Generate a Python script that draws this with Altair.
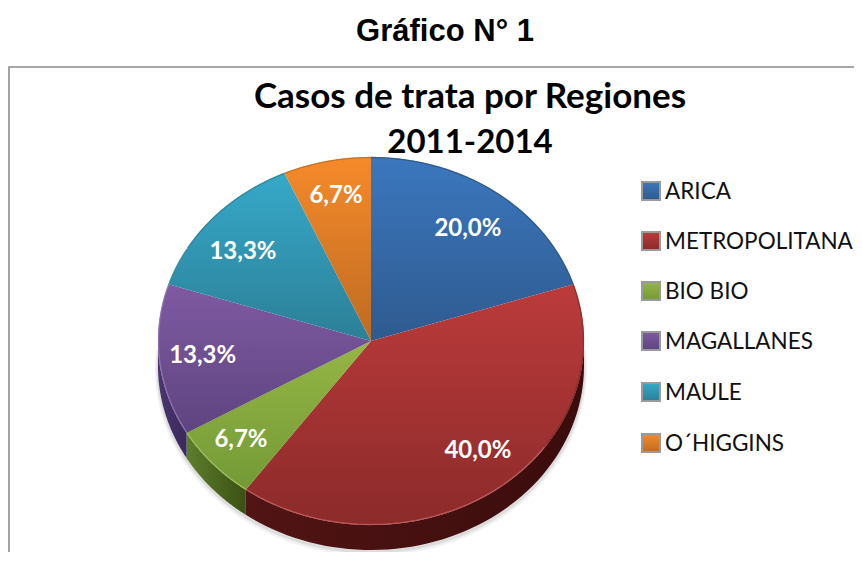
import numpy as np
import pandas as pd
import altair as alt

regions = ["ARICA", "METROPOLITANA", "BIO BIO", "MAGALLANES", "MAULE", "O´HIGGINS"]
cases = [3, 6, 1, 2, 2, 1]
pct_labels = ["20,0%", "40,0%", "6,7%", "13,3%", "13,3%", "6,7%"]
top_light = ["#3B77BE", "#BC3B3B", "#95B645", "#7F5AA2", "#36A9C9", "#F68A2A"]
top_dark = ["#2F5A8F", "#8C2A2A", "#739A37", "#5E4480", "#2C7F97", "#BE6B22"]
wall_a = ["#2A4E7C", "#521414", "#5E7E2C", "#4A3570", "#22687C", "#9A5518"]
wall_b = ["#203C60", "#3A0C0C", "#3A5014", "#3A2A5C", "#1C5565", "#7C4412"]
rim = ["#2F5F98", "#C46060", "#A4C35A", "#9477B4", "#2F8FAA", "#D97A25"]
rim_dark = ["#2C5485", "#7E2A2A", "#739A37", "#5E4480", "#2C7F97", "#BE6B22"]
swatch_y = [191, 241, 291, 341, 392, 443]

CX, CY, RX, RY, DEPTH = 371, 341, 213, 184, 25
LABEL_NUDGE = [(-2, 6), (8, -8), (-5, 2), (-1, 0), (-3, 8), (0, -3)]
LABEL_R = 0.79
RIGHT, BOTTOM = 854, 552

X = alt.X("x:Q", axis=None, scale=alt.Scale(domain=[8, RIGHT], range=[0, RIGHT - 8]))
Y = alt.Y("y:Q", axis=None, scale=alt.Scale(domain=[8, BOTTOM], range=[0, BOTTOM - 8]))


def ell(theta, dy=0.0, grow=0.0):
    return CX + (RX + grow) * np.sin(theta), CY + dy - (RY + grow) * np.cos(theta)


def shape(xs, ys, **mark):
    df = pd.DataFrame({"x": xs, "y": ys, "i": range(len(xs))})
    return alt.Chart(df).mark_line(**mark).encode(x=X, y=Y, order="i:Q")


def vgrad(a, b):
    return alt.Gradient(gradient="linear", x1=0, y1=0, x2=0, y2=1,
                        stops=[alt.GradientStop(color=a, offset=0), alt.GradientStop(color=b, offset=1)])


def hgrad(a, b):
    return alt.Gradient(gradient="linear", x1=0, y1=0, x2=1, y2=0,
                        stops=[alt.GradientStop(color=a, offset=0), alt.GradientStop(color=b, offset=1)])


def text(rows, **mark):
    return alt.Chart(pd.DataFrame(rows)).mark_text(**mark).encode(x=X, y=Y, text="t:N")


shares = np.array(cases) / sum(cases)
edges = np.concatenate([[0], np.cumsum(shares)]) * 2 * np.pi
layers = []

# frame
layers.append(alt.Chart(pd.DataFrame({"x": [9, 9, RIGHT], "y": [BOTTOM, 67, 67], "i": [0, 1, 2]}))
              .mark_line(color="#8c8c8c", strokeWidth=1.6).encode(x=X, y=Y, order="i:Q"))

# soft shadow below the pie
full = np.linspace(np.pi / 2 - 0.1, 3 * np.pi / 2 + 0.1, 120)
for grow, off, op in [(3, 3, 0.10), (1.5, 2, 0.18)]:
    sx, sy = ell(full, DEPTH + off, grow)
    layers.append(shape(list(sx), list(sy), fill="#808080", fillOpacity=op, strokeOpacity=0))

# side wall
for k in range(len(cases)):
    a, b = max(edges[k], np.pi / 2), min(edges[k + 1], 3 * np.pi / 2)
    if b <= a:
        continue
    th = np.linspace(a, b, 60)
    x1, y1 = ell(th)
    x2, y2 = ell(th[::-1], DEPTH)
    layers.append(shape(list(x1) + list(x2), list(y1) + list(y2),
                        fill=hgrad(wall_a[k], wall_b[k]), strokeOpacity=0))

# top face
for k in range(len(cases)):
    th = np.linspace(edges[k], edges[k + 1], 90)
    ax, ay = ell(th)
    xs = [CX] + list(ax) + [CX]
    ys = [CY] + list(ay) + [CY]
    layers.append(shape(xs, ys, fill=vgrad(top_light[k], top_dark[k]), strokeOpacity=0))

# rim: dark towards the upper right, light along the lower edge
split = np.radians(125)
for k in range(len(cases)):
    th = np.linspace(edges[k], edges[k + 1], 90)
    upper = th[(th <= split) | (th >= np.radians(300))]
    lower = th[(th >= split) & (th < np.radians(300))]
    if len(upper) > 1:
        gaps = np.where(np.diff(upper) > 0.5)[0]
        ax, ay = ell(upper, 0, -0.5)
        layers.append(shape(list(ax), list(ay), color=rim_dark[k], strokeWidth=1.3, opacity=0.8))
    if len(lower) > 1:
        ax, ay = ell(lower, 0, -0.5)
        layers.append(shape(list(ax), list(ay), color=rim[k], strokeWidth=1.3, opacity=0.8))

# percentage labels
mids = (edges[:-1] + edges[1:]) / 2
lx, ly = ell(mids)
rows = [{"x": CX + (lx[k] - CX) * LABEL_R + LABEL_NUDGE[k][0],
         "y": CY + (ly[k] - CY) * LABEL_R + LABEL_NUDGE[k][1],
         "t": pct_labels[k]} for k in range(len(cases))]
layers.append(text(rows, font="Lato", fontWeight="bold", fontSize=24, color="white",
                   align="center", baseline="middle"))

# legend
for k, r in enumerate(regions):
    sw = pd.DataFrame({"x": [642], "x2": [660], "y": [swatch_y[k] - 9], "y2": [swatch_y[k] + 9]})
    layers.append(alt.Chart(sw).mark_rect(fill=vgrad(top_light[k], top_dark[k]), stroke="#9a9a9a", strokeWidth=2)
                  .encode(x=X, x2="x2:Q", y=Y, y2="y2:Q"))
layers.append(text([{"x": 665, "y": swatch_y[k] + 1, "t": r} for k, r in enumerate(regions)],
                   font="Lato", fontSize=22.5, color="#111111", align="left", baseline="middle"))

# titles
layers.append(text([{"x": 445, "y": 32, "t": "Gráfico N° 1"}], font="Liberation Sans", fontWeight="bold",
                   fontSize=31, color="black", align="center", baseline="middle"))
layers.append(text([{"x": 470, "y": 97, "t": "Casos de trata por Regiones"}],
                   font="Lato", fontWeight="bold", fontSize=35, color="black", align="center", baseline="middle"))
layers.append(text([{"x": 470, "y": 143, "t": "2011-2014"}],
                   font="Lato", fontWeight="bold", fontSize=33, color="black", align="center", baseline="middle"))

chart = alt.layer(*layers).properties(width=RIGHT - 8, height=BOTTOM - 8, padding=0, background="white",
                                      autosize=alt.AutoSizeParams(type="none")).configure_view(stroke=None)
chart.save("out.html", embed_options={"renderer": "svg", "actions": False})
